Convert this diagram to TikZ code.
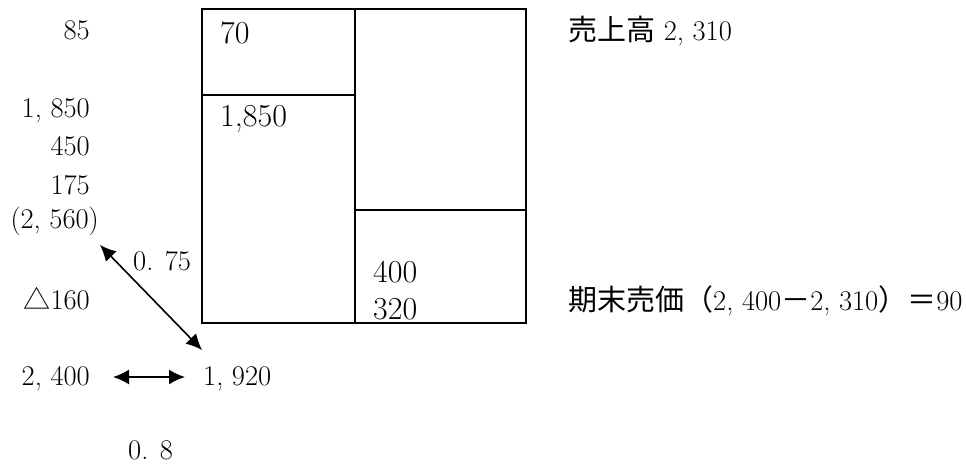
\documentclass[tikz,border=0pt]{standalone}
\usepackage{fontspec}
\newfontfamily\jp{Noto Sans CJK JP}
\usetikzlibrary{arrows.meta}
\begin{document}
\begin{tikzpicture}[x=1pt,y=-1pt,
  lbl/.style={inner sep=0pt, font=\fontsize{28.5}{32}\selectfont},
  boxlbl/.style={inner sep=0pt, font=\fontsize{32}{36}\selectfont},
  jpf/.style={font=\fontsize{29}{32}\selectfont\jp},
  frame/.style={line width=2pt},
  dbl/.style={{Latex[length=16pt,width=15pt]}-{Latex[length=16pt,width=15pt]}, line width=1.6pt}]
\useasboundingbox[fill=white] (0,0) rectangle (966,464);
% box
\draw[frame] (202,9) rectangle (526,323);
\draw[frame] (355,9) -- (355,323);
\draw[frame] (202,95) -- (355,95);
\draw[frame] (355,210) -- (526,210);
% box labels
\node[boxlbl, anchor=base west] (b70) at (220,43) {70};
\node[boxlbl, anchor=base west] (b1850) at (220,126) {1,850};
\node[boxlbl, anchor=base west] (b400) at (373,282) {400};
\node[boxlbl, anchor=base west] (b320) at (373,319) {320};
% left column
\node[lbl, anchor=base east] (l85) at (90,39) {85};
\node[lbl, anchor=base east] (l1850) at (90,117) {1, 850};
\node[lbl, anchor=base east] (l450) at (90,155) {450};
\node[lbl, anchor=base east] (l175) at (90,194) {175};
\node[lbl, anchor=base east] (l2560) at (99,228) {(2, 560)};
\node[lbl, anchor=base west] (r075) at (133,270) {0. 75};
\node[lbl, anchor=base east] (tri) at (90,309) {{\fontsize{27}{30}\selectfont\jp △}160};
\node[lbl, anchor=base east] (l2400) at (90,385) {2, 400};
\node[lbl, anchor=base west] (l1920) at (203,385) {1, 920};
\node[lbl, anchor=base west] (r08) at (128,459) {0. 8};
% right texts
\node[lbl, anchor=base west] (sales) at (568,40) {{\fontsize{29}{32}\selectfont\jp 売上高} 2, 310};
\node[lbl, anchor=base west] (endp) at (568,310) {{\fontsize{29}{32}\selectfont\jp 期末売価（}2, 400{\fontsize{29}{32}\selectfont\jp －}2, 310{\fontsize{29}{32}\selectfont\jp ）＝}90};
% arrows
\coordinate (d1) at (100,245);
\coordinate (d2) at (202,350);
\draw[dbl] (d1) -- (d2);
\coordinate (h1) at (113,377);
\coordinate (h2) at (185,377);
\draw[dbl] (h1) -- (h2);
\end{tikzpicture}
\end{document}
